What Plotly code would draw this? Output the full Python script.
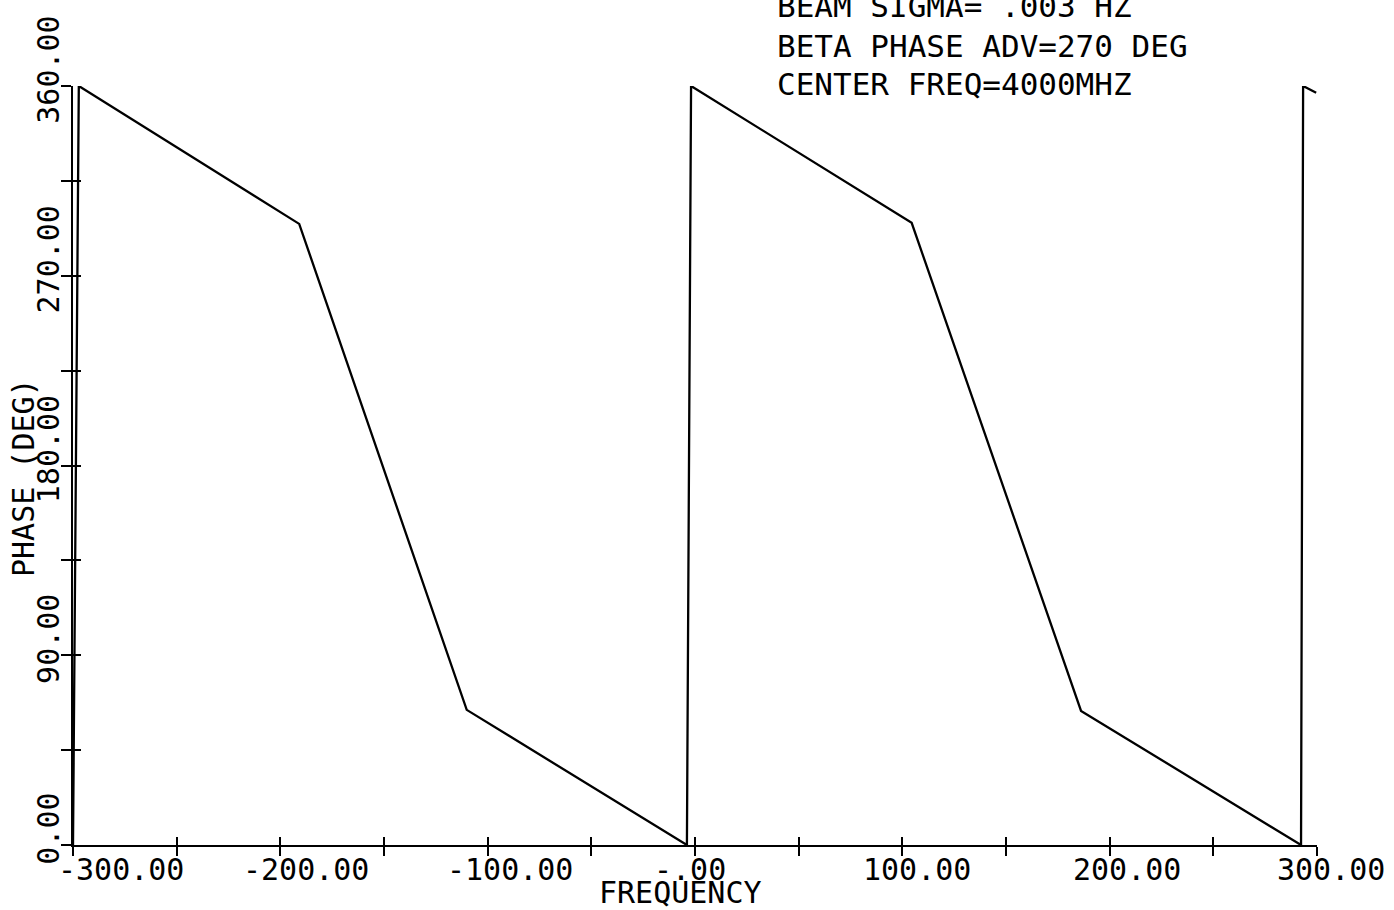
import plotly.graph_objects as go

# Phase response across the frequency window (piecewise segments, wrapping at 360 deg)
freq = [-300.0, -297.2, -190.9, -110.1, -3.9, -1.9, 104.5, 186.2, 292.3, 293.3, 299.6]
phase = [0.0, 360.0, 294.6, 64.1, 0.0, 360.0, 295.1, 63.6, 0.0, 360.0, 356.8]

x_ticks = list(range(-300, 301, 50))
x_label_vals = [-300, -200, -100, 0, 100, 200, 300]
x_labels = ["-300.00", "-200.00", "-100.00", "-.00", "100.00", "200.00", "300.00"]
y_ticks = list(range(0, 361, 45))
y_labels = ["0.00", "", "90.00", "", "180.00", "", "270.00", "", "360.00"]

x_title = "FREQUENCY"
y_title = "PHASE (DEG)"
info_lines = ["BEAM SIGMA= .003 HZ", "BETA PHASE ADV=270 DEG", "CENTER FREQ=4000MHZ"]

FONT = "DejaVu Sans Mono"
INK = "black"

# horizontal nudge (px) of each frequency label relative to its tick
x_label_nudge = [48, 26, 22, -5, 15, 17, 14]

fig = go.Figure()
fig.add_trace(go.Scatter(
    x=freq, y=phase, mode="lines",
    line=dict(color=INK, width=2.3),
    hoverinfo="skip", showlegend=False,
))
# helper trace so the overlaid tick axes are rendered
fig.add_trace(go.Scatter(
    x=[x_ticks[0], x_ticks[-1]], y=[y_ticks[0], y_ticks[0]],
    xaxis="x2", yaxis="y2", mode="lines",
    line=dict(width=0, color="rgba(0,0,0,0)"),
    hoverinfo="skip", showlegend=False,
))

axis_common = dict(showgrid=False, zeroline=False, tickcolor=INK, tickwidth=2)

fig.update_layout(
    width=1394, height=910,
    margin=dict(l=73, r=77, t=86, b=65),
    paper_bgcolor="white", plot_bgcolor="white",
    font=dict(family=FONT, color=INK, size=30),
    xaxis=dict(
        range=[-300, 300], tickmode="array", tickvals=x_ticks,
        showticklabels=False,
        ticks="outside", ticklen=9, showline=True, linecolor=INK, linewidth=2,
        automargin=False, **axis_common,
    ),
    yaxis=dict(
        range=[0, 360], tickmode="array", tickvals=y_ticks, ticktext=y_labels,
        ticks="outside", ticklen=10, showline=True, linecolor=INK, linewidth=2,
        tickangle=-90, tickfont=dict(family=FONT, size=30), ticklabelshift=-12,
        ticklabelstandoff=-10,
        automargin=False, **axis_common,
    ),
    xaxis2=dict(
        range=[-300, 300], overlaying="x", anchor="y", side="bottom",
        tickmode="array", tickvals=x_ticks, showticklabels=False,
        ticks="inside", ticklen=8, showline=False, **axis_common,
    ),
    yaxis2=dict(
        range=[0, 360], overlaying="y", anchor="x", side="left",
        tickmode="array", tickvals=y_ticks, showticklabels=False,
        ticks="inside", ticklen=8, showline=False, **axis_common,
    ),
)

# frequency tick labels, placed on the x scale
for val, text, dx in zip(x_label_vals, x_labels, x_label_nudge):
    fig.add_annotation(
        text=text, xref="x", yref="paper", x=val, y=-0.0329,
        xanchor="center", yanchor="middle", xshift=dx, showarrow=False,
        font=dict(family=FONT, size=30, color=INK),
    )

# axis titles
fig.add_annotation(
    text=x_title, xref="paper", yref="paper", x=0.4887, y=-0.0625,
    xanchor="center", yanchor="middle", showarrow=False,
    font=dict(family=FONT, size=30, color=INK),
)
fig.add_annotation(
    text=y_title, xref="paper", yref="paper", x=-0.0402, y=0.4848,
    xanchor="center", yanchor="middle", showarrow=False, textangle=-90,
    font=dict(family=FONT, size=30, color=INK),
)

line_y = [1.105, 1.053, 1.003]
for text, yy in zip(info_lines, line_y):
    fig.add_annotation(
        text=text, xref="paper", yref="paper", x=0.5643, y=yy,
        xanchor="left", yanchor="middle", showarrow=False,
        font=dict(family=FONT, size=31, color=INK),
    )

fig.write_html("out.html")
